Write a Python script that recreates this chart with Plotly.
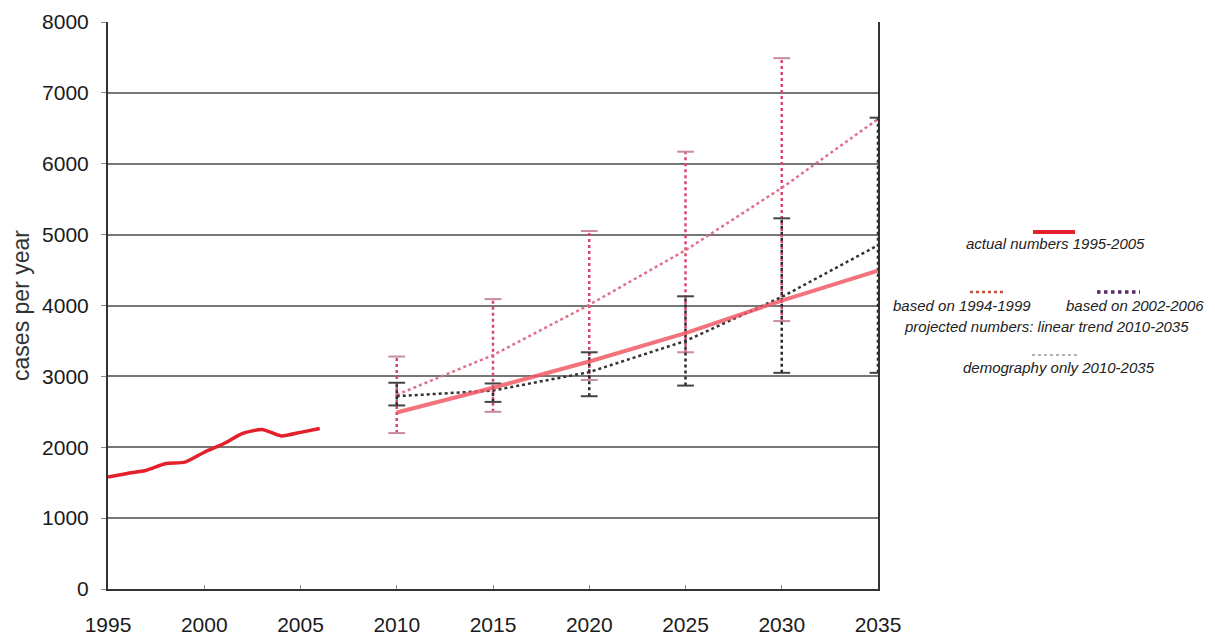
import plotly.graph_objects as go

# ---- data ----
actual_years = [1995, 1996, 1997, 1998, 1999, 2000, 2001, 2002, 2003, 2004, 2005, 2006]
actual_cases = [1580, 1630, 1675, 1770, 1790, 1930, 2050, 2195, 2250, 2160, 2210, 2265]

proj_years = [2010, 2015, 2020, 2025, 2030, 2035]
trend_solid = [2490, 2840, 3210, 3610, 4070, 4490]
trend_9499 = [2740, 3300, 4010, 4780, 5660, 6630]
trend_0206 = [2720, 2800, 3060, 3500, 4120, 4850]

err_9499_high = [3280, 4090, 5050, 6170, 7490, None]
err_9499_low = [2200, 2500, 2950, 3340, 3780, None]
err_0206_high = [2910, 2900, 3340, 4130, 5230, 6650]
err_0206_low = [2590, 2640, 2720, 2870, 3050, 3050]

x_ticks = [1995, 2000, 2005, 2010, 2015, 2020, 2025, 2030, 2035]
y_ticks = [0, 1000, 2000, 3000, 4000, 5000, 6000, 7000, 8000]


def bar_path(years, lows, highs):
    xs, ys = [], []
    for yr, lo, hi in zip(years, lows, highs):
        if lo is None or hi is None:
            continue
        xs += [yr, yr, None]
        ys += [lo, hi, None]
    return xs, ys


def caps(years, lows, highs):
    xs, ys = [], []
    for yr, lo, hi in zip(years, lows, highs):
        if lo is None or hi is None:
            continue
        xs += [yr, yr]
        ys += [lo, hi]
    return xs, ys


RED = "#e3202c"
PINK = "#d9476b"
DARK = "#2a2a2a"

fig = go.Figure()

# error bars (based on 1994-1999)
bx, by = bar_path(proj_years, err_9499_low, err_9499_high)
fig.add_trace(go.Scatter(x=bx, y=by, mode="lines", line=dict(color=PINK, width=2.5, dash="dot"),
                         showlegend=False, hoverinfo="skip"))
cx, cy = caps(proj_years, err_9499_low, err_9499_high)
fig.add_trace(go.Scatter(x=cx, y=cy, mode="markers",
                         marker=dict(symbol="line-ew-open", size=12, color="#c98a9a",
                                     line=dict(color="#c98a9a", width=2)),
                         showlegend=False, hoverinfo="skip"))

# error bars (based on 2002-2006)
bx, by = bar_path(proj_years, err_0206_low, err_0206_high)
fig.add_trace(go.Scatter(x=bx, y=by, mode="lines", line=dict(color=DARK, width=2.5, dash="dot"),
                         showlegend=False, hoverinfo="skip"))
cx, cy = caps(proj_years, err_0206_low, err_0206_high)
fig.add_trace(go.Scatter(x=cx, y=cy, mode="markers",
                         marker=dict(symbol="line-ew-open", size=12, color="#444444",
                                     line=dict(color="#444444", width=2)),
                         showlegend=False, hoverinfo="skip"))

# trends
fig.add_trace(go.Scatter(x=proj_years, y=trend_9499, mode="lines",
                         line=dict(color="#e0708a", width=2.5, dash="dot"),
                         name="based on 1994-1999", showlegend=False))
fig.add_trace(go.Scatter(x=proj_years, y=trend_0206, mode="lines",
                         line=dict(color="#333333", width=2.5, dash="dot"),
                         name="based on 2002-2006", showlegend=False))
fig.add_trace(go.Scatter(x=proj_years, y=trend_solid, mode="lines",
                         line=dict(color="rgba(240,90,100,0.85)", width=4),
                         name="projection", showlegend=False))

# actual numbers
fig.add_trace(go.Scatter(x=actual_years, y=actual_cases, mode="lines",
                         line=dict(color=RED, width=3.5, shape="spline", smoothing=0.6),
                         name="actual numbers 1995-2005", showlegend=False))

# ---- custom legend (paper coordinates, measured in page pixels) ----
W0, W1, H0, H1 = 108, 878, 22, 589


def px(x):
    return (x - W0) / (W1 - W0)


def py(y):
    return (H1 - y) / (H1 - H0)


legend_font = dict(family="Arial", size=15, color="#222222")
texts = [
    ("<i>actual numbers 1995-2005</i>", 1055, 243),
    ("<i>based on 1994-1999</i>", 962, 305),
    ("<i>based on 2002-2006</i>", 1135, 305),
    ("<i>projected numbers: linear trend 2010-2035</i>", 1046, 326),
    ("<i>demography only 2010-2035</i>", 1059, 367),
]
for t, x, y in texts:
    fig.add_annotation(text=t, x=px(x), y=py(y), xref="paper", yref="paper",
                       showarrow=False, font=legend_font, xanchor="center", yanchor="middle")

fig.add_shape(type="line", xref="paper", yref="paper", x0=px(1033), x1=px(1075), y0=py(232), y1=py(232),
              line=dict(color=RED, width=4))
fig.add_shape(type="line", xref="paper", yref="paper", x0=px(970), x1=px(1005), y0=py(292), y1=py(292),
              line=dict(color="#c0503a", width=2.5, dash="dot"))
fig.add_shape(type="line", xref="paper", yref="paper", x0=px(1097), x1=px(1140), y0=py(292), y1=py(292),
              line=dict(color="#5a2a6a", width=3.5, dash="dot"))
fig.add_shape(type="line", xref="paper", yref="paper", x0=px(1032), x1=px(1077), y0=py(355), y1=py(355),
              line=dict(color="#999999", width=1.5, dash="dot"))

# page has an 8px body margin: figure coordinates = page coordinates - 8
FW, FH = 1207, 628
fig.update_layout(
    width=FW, height=FH,
    margin=dict(l=W0 - 8, r=FW - (W1 - 8), t=H0 - 8, b=FH - (H1 - 8), autoexpand=False),
    paper_bgcolor="white", plot_bgcolor="white",
    showlegend=False,
    font=dict(family="Arial", color="#1a1a1a"),
)
fig.update_xaxes(
    range=[1995, 2035], tickvals=x_ticks, ticktext=[str(v) for v in x_ticks],
    showgrid=False, zeroline=False, automargin=False,
    showline=True, linecolor="#333333", linewidth=2,
    ticks="inside", ticklen=4, tickcolor="#888888",
    tickfont=dict(size=21, family="Arial", color="#1a1a1a"),
    ticklabelstandoff=16,
)
fig.update_yaxes(
    range=[0, 8000], tickvals=y_ticks, automargin=False,
    showgrid=True, gridcolor="#777777", gridwidth=1.5,
    zeroline=False,
    showline=True, linecolor="#333333", linewidth=2, mirror=True,
    ticks="outside", ticklen=5, tickcolor="#888888",
    tickfont=dict(size=21, family="Arial", color="#1a1a1a"),
    ticklabelstandoff=8,
    title=dict(text="cases per year", font=dict(size=23, family="Arial", color="#333333"), standoff=14),
)

fig.write_html("out.html")
